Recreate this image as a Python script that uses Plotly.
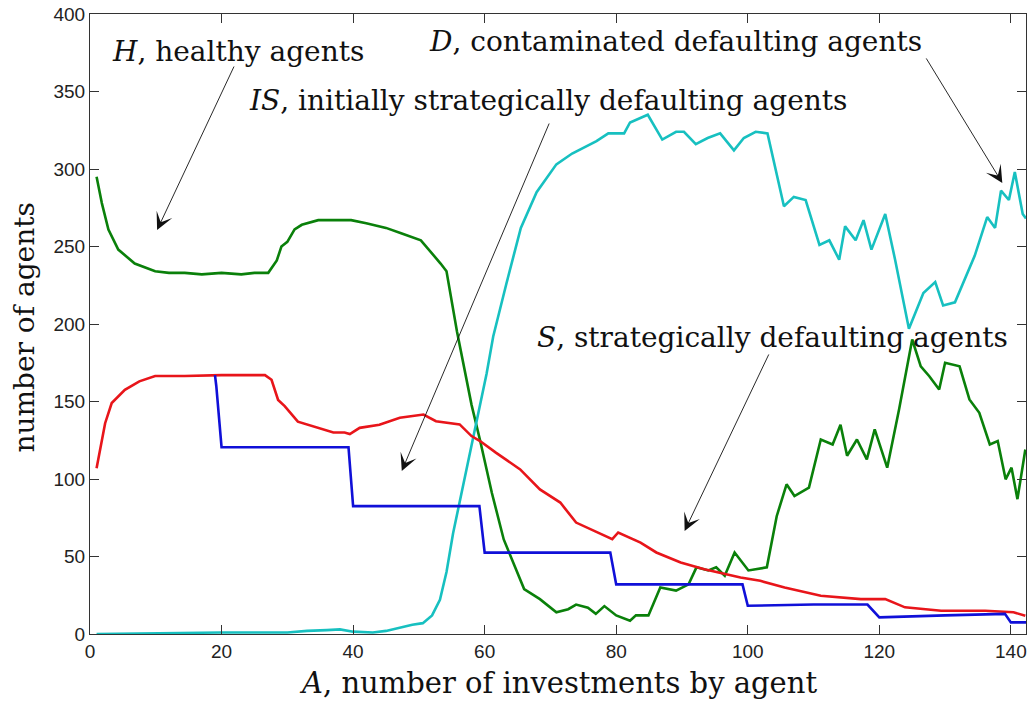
import plotly.graph_objects as go

# ---- data ----
# H, healthy agents (green)
H_x = [1, 1.8, 2.8, 4.3, 6.8, 9.9, 12, 14.4, 17, 20, 23, 25, 27.1, 28.4, 29.1, 30, 31.1, 32.2, 34.7, 37,
       39.7, 42, 45, 47.3, 50.3, 53.3, 54.2, 55.8, 58, 59.3, 61.1, 62.9, 64.8, 66, 68.4, 70.9, 72.7, 73.9, 75.7, 76.9,
       78.2, 80, 82.1, 83, 84.9, 86.7, 89.1, 91, 92.2, 94, 95.2, 96.5, 98, 100.1, 102.9, 104.4, 105.9, 107.1, 109.3, 111.1,
       112.9, 114.1, 115.1, 116.6, 118.1, 119.3, 121.2, 123, 125, 126.3, 127.6, 129.1, 130, 132.2, 133.7, 135.2, 136.8, 138, 139.2, 140.1,
       141, 142.2]
H_y = [295, 278, 261, 248, 239, 234, 233, 233, 232, 233, 232, 233, 233, 241, 250, 253, 261, 264, 267, 267,
       267, 265, 262, 258.5, 254, 239, 234, 195, 148, 125, 91, 61, 42, 29, 22.5, 14, 16, 19, 17, 13,
       18, 12, 8.6, 12, 12, 30, 28, 32, 43, 41, 43, 37.6, 52.6, 41, 43, 76, 96.6, 89, 94.4, 125.5,
       122.3, 135, 115, 125.5, 112.7, 132, 107.3, 144.8, 190, 172.7, 166.3, 157.7, 175, 172.7, 151.3, 142.7, 122.3, 124.5, 99.8, 107.3,
       87, 119]

# D, contaminated defaulting agents (cyan)
D_x = [1, 10, 20, 30, 33, 36, 38, 40, 43, 45, 47, 49, 50.6, 52, 53.2, 54.2, 55.2, 56.2, 57.2, 58.2,
       59.2, 60.3, 61.3, 62.3, 63.3, 65.5, 67.9, 70.9, 73.3, 77, 78.8, 81.2, 82.1, 84.8, 87, 89.1, 90.3, 92.1, 93.9, 95.8,
       97.9, 99.4, 101.2, 103, 105.5, 107, 108.8, 110.9, 112.4, 113.9, 114.8, 116.4, 117.6, 118.8, 120.9, 122.4, 124.5, 126.7, 128.5, 129.7,
       131.5, 134.5, 136.4, 137.6, 138.5, 139.7, 140.6, 141.8, 142.3]
D_y = [0, 0.5, 1, 1, 2, 2.5, 3, 1.5, 1, 2, 4, 6, 7, 12, 22, 40, 65, 85, 106, 125,
       145, 168, 192, 210, 226, 262, 285, 303, 310, 318, 323, 323, 330, 335, 319, 324, 324, 316, 320, 323,
       312, 320, 324, 323, 276, 282, 280, 251, 254, 241.5, 263, 254, 267, 248, 271, 241.5, 197, 220, 227, 212,
       214, 244, 269, 262, 286, 280, 298, 271, 268]

# S, strategically defaulting agents (red)
S_x = [1, 1.5, 2.3, 3.3, 5.3, 7.5, 9.9, 14.4, 20, 26.6, 27.6, 28.6, 29.6, 31.6, 34.7, 37, 38.7, 39.5, 41, 44,
       47.1, 50.7, 52.6, 56.2, 58, 59.3, 61.7, 65.4, 68.4, 71.5, 73.9, 77.6, 79.4, 80.3, 83.7, 86.1, 89.8, 93.4, 98.9, 101.9,
       105.6, 111.1, 117.2, 120.9, 123.9, 129.4, 136.1, 140.4, 142.2]
S_y = [107, 119, 136, 149, 157.5, 163, 166.5, 166.5, 167, 167, 164, 151, 147, 137, 133, 130, 130, 129, 133, 135,
       139.5, 141.6, 137.3, 135.2, 127.7, 124.5, 117, 106.2, 93.3, 84.8, 71.9, 64.4, 61.2, 65.5, 59, 52.6, 46.1, 41.8, 36.5, 34.3,
       30, 24.7, 22.5, 22.5, 17.2, 15, 15, 14, 11.8]

# IS, initially strategically defaulting agents (blue)
IS_x = [19, 19.2, 20, 39.3, 40, 59.2, 60, 79.1, 80, 99.2, 100, 110, 118.2, 120, 130, 139.1, 140, 142.3]
IS_y = [167, 160, 120.5, 120.5, 82.5, 82.5, 52.5, 52.5, 32, 32, 18.2, 19, 19, 10.7, 12, 13, 7.5, 7.5]

x_ticks = [0, 20, 40, 60, 80, 100, 120, 140]
y_ticks = [0, 50, 100, 150, 200, 250, 300, 350, 400]

# annotation labels: (text, text x, text y, arrow tail x, tail y, arrow tip x, tip y)
labels = [
    ("<i>H</i>, healthy agents", 3.0, 375.5, 22.0, 367.1, 10.2, 260.6),
    ("<i>IS</i>, initially strategically defaulting agents", 23.85, 344, 69.9, 330.3, 47.4, 105.2),
    ("<i>D</i>, contaminated defaulting agents", 51.3, 382, 127.0, 372.3, 138.7, 291),
    ("<i>S</i>, strategically defaulting agents", 67.6, 191, 103.3, 181.3, 90.4, 66.5),
]

SERIF = "DejaVu Serif"
fig = go.Figure()
fig.add_trace(go.Scatter(x=H_x, y=H_y, mode="lines", line=dict(color="#0a800a", width=2.6), showlegend=False))
fig.add_trace(go.Scatter(x=D_x, y=D_y, mode="lines", line=dict(color="#17c0c0", width=2.6), showlegend=False))
fig.add_trace(go.Scatter(x=S_x, y=S_y, mode="lines", line=dict(color="#e8151a", width=2.6), showlegend=False))
fig.add_trace(go.Scatter(x=IS_x, y=IS_y, mode="lines", line=dict(color="#1010d8", width=2.6), showlegend=False))

annotations = []
for text, tx, ty, ax0, ay0, x1, y1 in labels:
    annotations.append(dict(x=tx, y=ty, xref="x", yref="y", text=text, showarrow=False,
                            xanchor="left", yanchor="middle",
                            font=dict(family=SERIF, size=28, color="#111")))
    annotations.append(dict(x=x1, y=y1, xref="x", yref="y", ax=ax0, ay=ay0, axref="x", ayref="y",
                            text="", showarrow=True, arrowhead=3, arrowsize=3.2, arrowwidth=0.9,
                            arrowcolor="#111"))
annotations.append(dict(x=0.5, y=-0.079, xref="paper", yref="paper", text="<i>A</i>, number of investments by agent",
                        showarrow=False, xanchor="center", yanchor="middle",
                        font=dict(family=SERIF, size=29, color="#111")))
annotations.append(dict(x=-0.07, y=0.495, xref="paper", yref="paper", text="number of agents", textangle=-90,
                        showarrow=False, xanchor="center", yanchor="middle",
                        font=dict(family=SERIF, size=28, color="#111")))

axis_common = dict(showline=True, linecolor="#333", linewidth=1, mirror="allticks", ticks="inside",
                   ticklen=9, tickwidth=1, tickcolor="#333", showgrid=False, zeroline=False,
                   automargin=False, ticklabeloverflow="allow",
                   tickfont=dict(family="Liberation Sans", size=19, color="#222"))
fig.update_layout(
    width=1029, height=704,
    margin=dict(l=90, r=3, t=14, b=70),
    paper_bgcolor="white", plot_bgcolor="white",
    xaxis=dict(range=[0, 142.3], tickvals=x_ticks, **axis_common),
    yaxis=dict(range=[0, 400], tickvals=y_ticks, **axis_common),
    annotations=annotations,
)
# remove the page's default body margin so the figure fills the window like the reference
fig.write_html("out.html", config={"displayModeBar": False},
               post_script="document.body.style.margin='0';")
